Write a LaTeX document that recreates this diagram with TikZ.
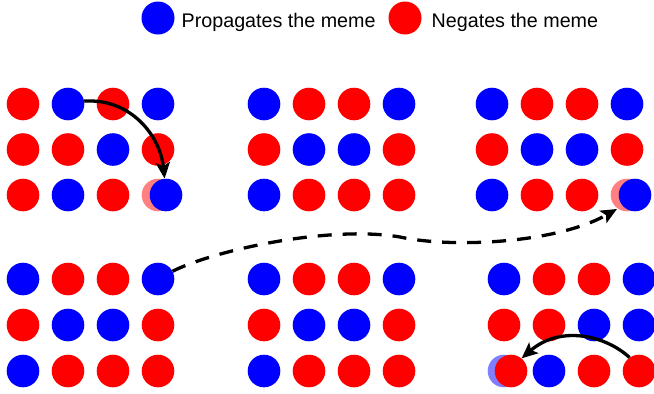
\documentclass[tikz,border=0pt]{standalone}
\usepackage{fontspec}
\setmainfont{Liberation Sans}
\usetikzlibrary{arrows.meta}

\definecolor{memeblue}{RGB}{0,0,255}
\definecolor{memered}{RGB}{255,0,0}
\definecolor{memepink}{RGB}{255,128,128}
\definecolor{memelilac}{RGB}{128,128,255}

\tikzset{
  dot/.style={circle, inner sep=0pt, minimum size=32.6pt, draw=none},
  flow/.style={line width=3.3pt, -{Stealth[length=16pt,width=14pt,inset=3.5pt]}},
  legtext/.style={anchor=base west, inner sep=0pt, font=\fontsize{19.7}{22}\selectfont}
}

% one row of four agents, named #1 followed by the column number
\newcommand\memerow[4]{%
  \foreach \col [count=\c] in {#4}
    \node[dot, fill=\col] (#1\c) at ({#2+45*(\c-1)},#3) {};%
}

\begin{document}
\begin{tikzpicture}[x=1pt,y=-1pt]
\useasboundingbox (0,0) rectangle (654,394);

% legend
\node[dot, fill=memeblue, minimum size=33pt] (legP) at (158,18) {};
\node[legtext] (legPt) at (181.5,27) {Propagates the meme};
\node[dot, fill=memered, minimum size=33pt] (legN) at (405,18) {};
\node[legtext] (legNt) at (431.5,27) {Negates the meme};

% top left
\memerow{A1}{23}{104}{memered,memeblue,memered,memeblue}
\memerow{A2}{23}{149.5}{memered,memered,memeblue,memered}
\memerow{A3}{23}{195}{memered,memeblue,memered,memepink}
\node[dot, fill=memeblue] (A3m) at (166,195) {};

% top middle
\memerow{B1}{264}{104}{memeblue,memered,memered,memeblue}
\memerow{B2}{264}{149.5}{memered,memeblue,memeblue,memered}
\memerow{B3}{264}{195}{memeblue,memered,memered,memered}

% top right
\memerow{C1}{492}{104}{memeblue,memered,memered,memeblue}
\memerow{C2}{492}{149.5}{memered,memeblue,memeblue,memered}
\memerow{C3}{492}{195}{memeblue,memered,memered,memepink}
\node[dot, fill=memeblue] (C3m) at (635,195) {};

% bottom left
\memerow{D1}{23}{279}{memeblue,memered,memered,memeblue}
\memerow{D2}{23}{325}{memered,memeblue,memeblue,memered}
\memerow{D3}{23}{371}{memeblue,memered,memered,memered}

% bottom middle
\memerow{E1}{264}{279}{memeblue,memered,memered,memeblue}
\memerow{E2}{264}{325}{memered,memeblue,memeblue,memered}
\memerow{E3}{264}{371}{memeblue,memered,memered,memered}

% bottom right
\memerow{F1}{504}{279}{memeblue,memered,memered,memeblue}
\memerow{F2}{504}{325}{memered,memered,memeblue,memeblue}
\memerow{F3}{504}{371}{memelilac,memeblue,memered,memered}
\node[dot, fill=memered] (F3m) at (511,371) {};

% connectors
\coordinate (waypoint) at (400,237);
\coordinate (landing) at (617,209);

\draw[flow] (A12.10) .. controls (130,98) and (160,135) .. (A3m.95);
\draw[flow, dash pattern=on 14pt off 11pt]
  (D14.28) .. controls (215,250) and (330,225) .. (waypoint)
  .. controls (450,248) and (555,244) .. (landing);
\draw[flow] (F34.125) .. controls (605,335) and (560,325) .. (F3m.50);
\end{tikzpicture}
\end{document}
